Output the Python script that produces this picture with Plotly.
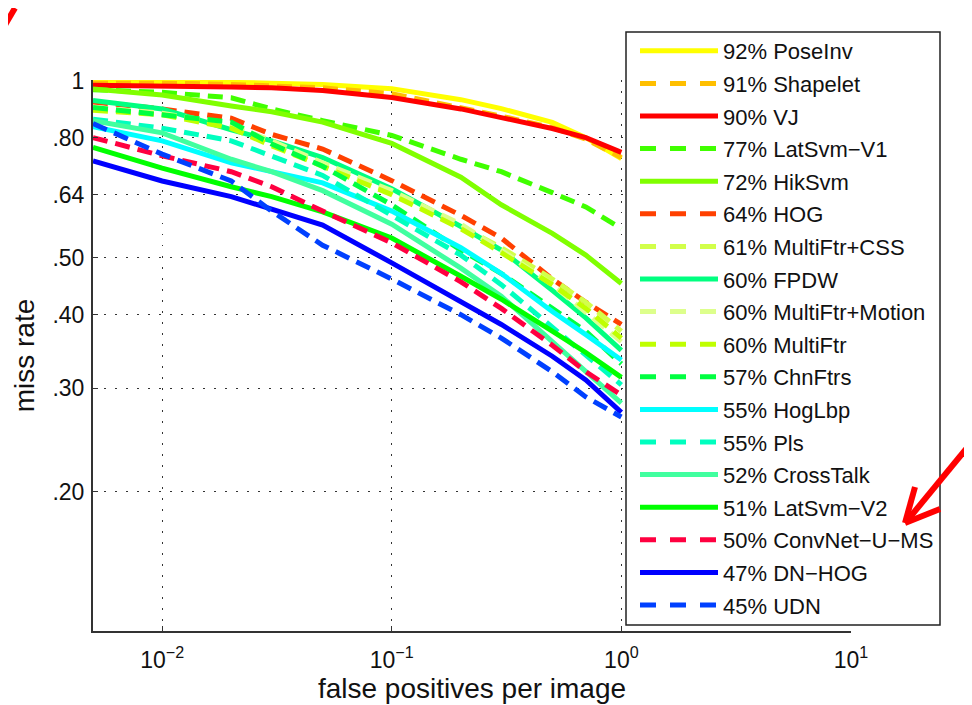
import math
import plotly.graph_objects as go

# ---------------- data ----------------
FPPI = [0.005, 0.01, 0.02, 0.03, 0.05, 0.1, 0.2, 0.3, 0.5, 0.7, 1.0]

NAMES = ["92% PoseInv", "91% Shapelet", "90% VJ", "77% LatSvm\u2212V1", "72% HikSvm",
         "64% HOG", "61% MultiFtr+CSS", "60% FPDW", "60% MultiFtr+Motion", "60% MultiFtr",
         "57% ChnFtrs", "55% HogLbp", "55% Pls", "52% CrossTalk", "51% LatSvm\u2212V2",
         "50% ConvNet\u2212U\u2212MS", "47% DN\u2212HOG", "45% UDN"]

POSEINV = [0.995, 0.995, 0.993, 0.99, 0.985, 0.969, 0.928, 0.896, 0.849, 0.80, 0.737]
SHAPELET = [0.99, 0.99, 0.985, 0.98, 0.972, 0.95, 0.90, 0.87, 0.832, 0.795, 0.74]
VJ = [0.982, 0.98, 0.975, 0.972, 0.962, 0.936, 0.895, 0.865, 0.829, 0.80, 0.755]
LATSVM_V1 = [0.965, 0.955, 0.935, 0.895, 0.855, 0.807, 0.735, 0.70, 0.645, 0.61, 0.56]
HIKSVM = [0.968, 0.945, 0.905, 0.885, 0.85, 0.782, 0.685, 0.615, 0.55, 0.505, 0.452]
HOG = [0.92, 0.895, 0.863, 0.81, 0.765, 0.676, 0.59, 0.54, 0.46, 0.42, 0.385]
MULTIFTR_CSS = [0.895, 0.88, 0.835, 0.785, 0.72, 0.645, 0.565, 0.52, 0.46, 0.42, 0.375]
FPDW = [0.925, 0.895, 0.825, 0.79, 0.74, 0.655, 0.565, 0.515, 0.44, 0.395, 0.348]
MULTIFTR_MOTION = [0.90, 0.88, 0.84, 0.79, 0.725, 0.65, 0.57, 0.515, 0.45, 0.405, 0.36]
MULTIFTR = [0.89, 0.875, 0.83, 0.775, 0.715, 0.64, 0.56, 0.51, 0.45, 0.41, 0.365]
CHNFTRS = [0.90, 0.875, 0.85, 0.78, 0.715, 0.615, 0.515, 0.47, 0.41, 0.375, 0.33]
HOGLBP = [0.835, 0.79, 0.725, 0.70, 0.67, 0.60, 0.52, 0.47, 0.405, 0.37, 0.335]
PLS = [0.86, 0.83, 0.79, 0.745, 0.69, 0.59, 0.505, 0.45, 0.38, 0.34, 0.304]
CROSSTALK = [0.855, 0.815, 0.735, 0.70, 0.65, 0.57, 0.48, 0.43, 0.36, 0.32, 0.283]
LATSVM_V2 = [0.77, 0.71, 0.66, 0.635, 0.598, 0.54, 0.465, 0.425, 0.375, 0.345, 0.313]
CONVNET = [0.80, 0.745, 0.70, 0.66, 0.60, 0.53, 0.455, 0.41, 0.355, 0.32, 0.292]
DN_HOG = [0.73, 0.675, 0.635, 0.605, 0.568, 0.49, 0.42, 0.385, 0.34, 0.31, 0.273]
UDN = [0.845, 0.75, 0.675, 0.60, 0.525, 0.46, 0.40, 0.365, 0.32, 0.29, 0.268]

SERIES = [POSEINV, SHAPELET, VJ, LATSVM_V1, HIKSVM, HOG, MULTIFTR_CSS, FPDW,
          MULTIFTR_MOTION, MULTIFTR, CHNFTRS, HOGLBP, PLS, CROSSTALK, LATSVM_V2,
          CONVNET, DN_HOG, UDN]

COLORS = ["#FFFF00", "#FFBF00", "#FF0000", "#40FF00", "#80FF00", "#FF4000",
          "#D2FF4A", "#00FF80", "#DDFF8C", "#BFFF00", "#00FF40", "#00FFFF",
          "#00FFBF", "#40FF9F", "#00FF00", "#FF0040", "#0000FF", "#0040FF"]
DASHED = [False, True, False, True, False, True, True, False, True, True, True,
          False, True, False, False, True, False, True]

Y_TICKS = [0.2, 0.3, 0.4, 0.5, 0.64, 0.8, 1.0]
Y_TICK_TEXT = [".20", ".30", ".40", ".50", ".64", ".80", "1"]
X_TICKS = [0.01, 0.1, 1, 10]
X_TICK_TEXT = ["10<sup>\u22122</sup>", "10<sup>\u22121</sup>", "10<sup>0</sup>", "10<sup>1</sup>"]

# ---------------- layout geometry ----------------
# page pixel positions of the plot area; the html body adds an 8px offset
W, H = 972, 705
OFF = 8
L, R, T, B = 93, 851, 80, 631
PW, PH = R - L, B - T


def px(x):
    return (x - L) / PW


def py(y):
    return (B - y) / PH


FONT = "Liberation Sans, Arial, Helvetica, sans-serif"

fig = go.Figure()
for name, vals, col, dashed in zip(NAMES, SERIES, COLORS, DASHED):
    fig.add_trace(go.Scatter(
        x=FPPI, y=vals, mode="lines", name=name, legendgroup=name, showlegend=False,
        line=dict(color=col, width=5, dash="15px,8px" if dashed else "solid"),
    ))
# legend entries (same style, legend dash spacing as in the original)
for name, col, dashed in zip(NAMES, COLORS, DASHED):
    fig.add_trace(go.Scatter(
        x=[None], y=[None], mode="lines", name=name, legendgroup=name, showlegend=True,
        line=dict(color=col, width=5, dash="16px,14px" if dashed else "solid"),
    ))

shapes = [
    # legend frame
    dict(type="rect", xref="paper", yref="paper", x0=px(626), x1=px(940), y0=py(625), y1=py(32),
         fillcolor="white", line=dict(color="#222", width=1.5), layer="above"),
    # red arrow, top-left (cut off)
    dict(type="line", xref="paper", yref="paper", x0=px(-4), y0=py(40), x1=px(15), y1=py(8),
         line=dict(color="#FF0000", width=6)),
    # red arrow, right
    dict(type="line", xref="paper", yref="paper", x0=px(976), y0=py(437), x1=px(906), y1=py(522),
         line=dict(color="#FF0000", width=6)),
    dict(type="line", xref="paper", yref="paper", x0=px(905), y0=py(523), x1=px(915), y1=py(487),
         line=dict(color="#FF0000", width=6)),
    dict(type="line", xref="paper", yref="paper", x0=px(905), y0=py(523), x1=px(940), y1=py(509),
         line=dict(color="#FF0000", width=6)),
]

axis_common = dict(
    type="log", showline=True, linecolor="#333", linewidth=2, mirror=False,
    ticks="inside", ticklen=5, tickcolor="#333", tickwidth=1,
    showgrid=True, gridcolor="#333", gridwidth=1, griddash="1.5px,9.5px",
    zeroline=False, tickfont=dict(family=FONT, size=23, color="#111"),
    automargin=False,
)

fig.update_layout(
    width=W, height=H,
    margin=dict(l=L - OFF, r=W - (R - OFF), t=T - OFF, b=H - (B - OFF), pad=0),
    paper_bgcolor="white", plot_bgcolor="white",
    font=dict(family=FONT, color="#111"),
    showlegend=True,
    legend=dict(
        x=px(635), y=py(30), xanchor="left", yanchor="top",
        bgcolor="rgba(0,0,0,0)", borderwidth=0,
        font=dict(family=FONT, size=22, color="#111"),
        itemwidth=78, tracegroupgap=1, traceorder="grouped",
        maxheight=700,
    ),
    xaxis=dict(
        range=[math.log10(0.005), 1.0], tickvals=X_TICKS, ticktext=X_TICK_TEXT,
        ticklabelstandoff=7,
        title=dict(text="false positives per image", font=dict(family=FONT, size=28, color="#111"),
                   standoff=3),
        **axis_common,
    ),
    yaxis=dict(
        range=[math.log10(0.116), 0.001], tickvals=Y_TICKS, ticktext=Y_TICK_TEXT,
        ticklabelstandoff=2,
        title=dict(text="miss rate", font=dict(family=FONT, size=28, color="#111"), standoff=10),
        **axis_common,
    ),
    shapes=shapes,
)

fig.write_html("out.html")
